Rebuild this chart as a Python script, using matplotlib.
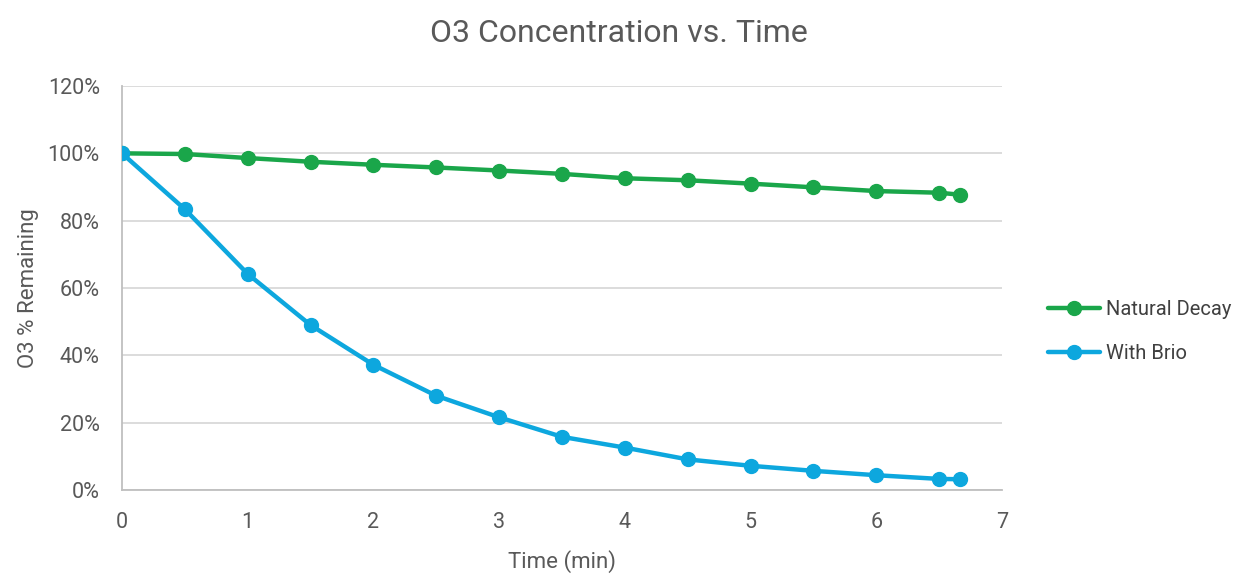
import matplotlib
matplotlib.use("Agg")
import matplotlib.pyplot as plt
from matplotlib.ticker import FuncFormatter

time_min = [0, 0.5, 1, 1.5, 2, 2.5, 3, 3.5, 4, 4.5, 5, 5.5, 6, 6.5, 6.67]
natural_decay = [100, 99.8, 98.6, 97.5, 96.6, 95.8, 94.9, 93.9, 92.6, 92.0, 91.0, 89.9, 88.8, 88.3, 87.7]
with_brio = [100, 83.4, 64.2, 49.0, 37.2, 28.0, 21.6, 15.8, 12.6, 9.1, 7.2, 5.7, 4.4, 3.3, 3.2]

x_ticks = [0, 1, 2, 3, 4, 5, 6, 7]
y_ticks = [0, 20, 40, 60, 80, 100, 120]

plt.rcParams['font.family'] = ['Roboto', 'DejaVu Sans']
text_color = '#595959'

fig = plt.figure(figsize=(12.47, 5.87), dpi=100)
ax = fig.add_axes([0.0978, 0.1652, 0.7057, 0.6883])

ax.plot(time_min, natural_decay, color='#1AA64A', lw=3.2, marker='o', ms=10,
        label='Natural Decay', zorder=3, solid_capstyle='round')
ax.plot(time_min, with_brio, color='#0DA7DE', lw=3.2, marker='o', ms=10,
        label='With Brio', zorder=4, solid_capstyle='round')

ax.set_xlim(0, 7)
ax.set_ylim(0, 120)
ax.set_xticks(x_ticks)
ax.set_yticks(y_ticks)
ax.yaxis.set_major_formatter(FuncFormatter(lambda v, p: f"{int(v)}%"))
ax.grid(axis='y', color='#d9d9d9', lw=1.3, zorder=0)
ax.set_axisbelow(True)
for s in ['top', 'right']:
    ax.spines[s].set_visible(False)
for s in ['left', 'bottom']:
    ax.spines[s].set_color('#bfbfbf')
    ax.spines[s].set_linewidth(1.3)
ax.tick_params(length=0, labelsize=15.5, colors=text_color)
ax.tick_params(axis='y', pad=16)
ax.tick_params(axis='x', pad=16)

ax.set_xlabel('Time (min)', fontsize=16, color=text_color, labelpad=12)
ax.set_ylabel('O3 % Remaining', fontsize=16, color=text_color, labelpad=6)
fig.text(0.496, 0.943, 'O3 Concentration vs. Time', ha='center', va='center',
         fontsize=23, color=text_color)

leg = ax.legend(loc='center left', bbox_to_anchor=(1.043, 0.393), frameon=False,
                fontsize=14.5, handlelength=2.6, labelspacing=1.25, handletextpad=0.3,
                borderaxespad=0)
for t in leg.get_texts():
    t.set_color('#404040')

fig.savefig('out.png', dpi=100)
